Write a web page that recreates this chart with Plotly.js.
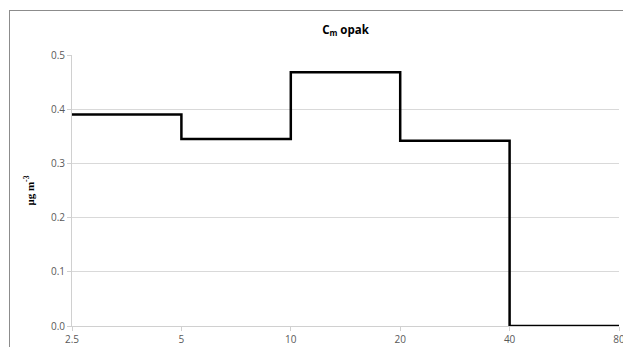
<!DOCTYPE html>
<html><head><meta charset="utf-8">
<script src="https://cdn.plot.ly/plotly-3.0.1.min.js"></script>
<style>
html,body{margin:0;padding:0;background:#fff;overflow:hidden;}
#frame{position:absolute;left:9px;top:10px;width:700px;height:400px;border-left:1px solid #8c8c8c;border-top:1px solid #8c8c8c;}
#chart{position:absolute;left:0;top:0;width:623px;height:347px;}
</style></head>
<body>
<div id="frame"></div>
<div id="chart"></div>
<script>
const sizeBins = [2.5, 5, 10, 20, 40, 80];
const concentration = [0.39, 0.345, 0.468, 0.342, 0, 0];
const tickLabels = ['2.5', '5', '10', '20', '40', '80'];
const yTicks = [0, 0.1, 0.2, 0.3, 0.4, 0.5];
const yTickLabels = ['0.0', '0.1', '0.2', '0.3', '0.4', '0.5'];

const trace = {
  x: sizeBins, y: concentration, type: 'scatter', mode: 'lines',
  line: {shape: 'hv', color: '#000', width: 2.5}, hoverinfo: 'skip'
};
const layout = {
  width: 623, height: 347,
  margin: {l: 72, r: 4, t: 55, b: 21},
  paper_bgcolor: 'rgba(0,0,0,0)', plot_bgcolor: 'rgba(0,0,0,0)',
  showlegend: false,
  font: {family: 'Open Sans, sans-serif', color: '#595959', size: 10},
  title: {text: '<b>C<sub>m</sub> opak</b>', x: 0.5, xref: 'paper', y: 0.925, yref: 'container',
          font: {family: 'Open Sans, sans-serif', size: 11.5, color: '#000'}},
  xaxis: {type: 'log', range: [Math.log10(2.5), Math.log10(80)], tickvals: sizeBins, ticktext: tickLabels,
          showgrid: false, zeroline: false, showline: true, linecolor: '#d0d0d0', linewidth: 1,
          ticks: 'outside', ticklen: 4, tickcolor: '#d0d0d0', ticklabeloverflow: 'allow',
          tickfont: {size: 10, color: '#595959'}},
  yaxis: {range: [0, 0.5], tickvals: yTicks, ticktext: yTickLabels,
          showgrid: true, gridcolor: '#d9d9d9', gridwidth: 1, zeroline: false,
          showline: true, linecolor: '#d0d0d0', ticks: 'outside', ticklen: 4, tickcolor: '#d0d0d0',
          tickfont: {size: 10, color: '#595959'},
          title: {text: '<b>μg m<sup>-3</sup></b>', standoff: 14,
                  font: {family: 'Liberation Serif, serif', size: 11, color: '#000'}}}
};
Plotly.newPlot('chart', [trace], layout, {displayModeBar: false, staticPlot: true});
</script>
</body></html>
